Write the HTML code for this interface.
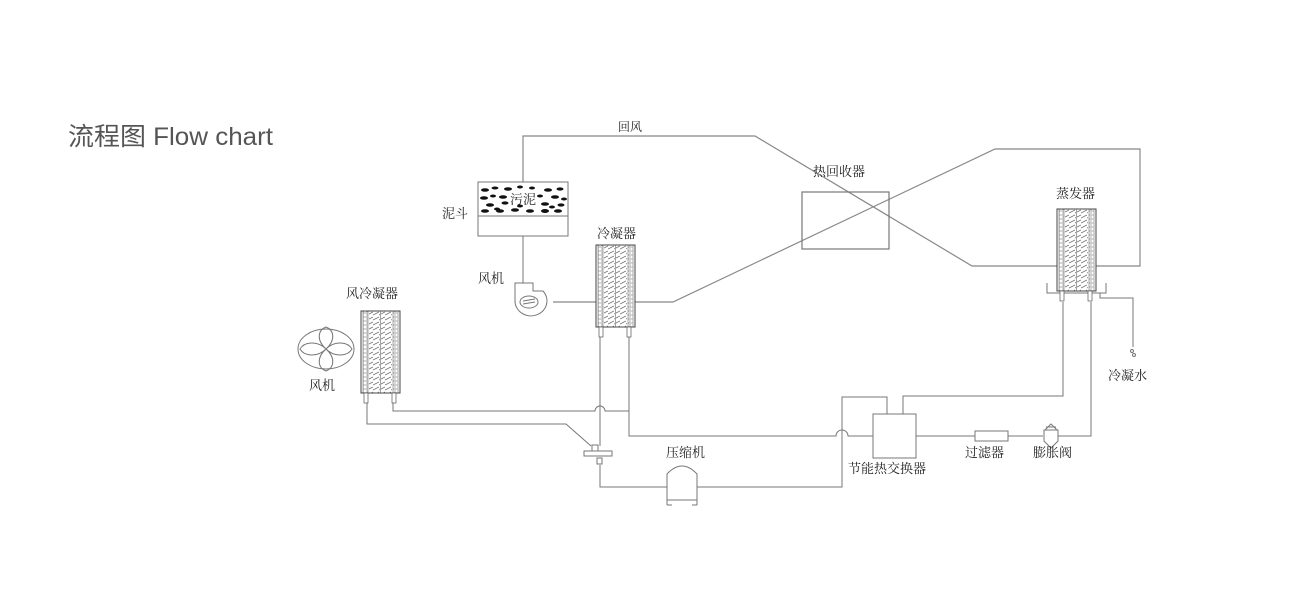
<!DOCTYPE html>
<html><head><meta charset="utf-8"><style>
body{margin:0;background:#fff;}
svg{display:block}
text{font-family:"Liberation Serif","Noto Serif CJK SC",serif;fill:#222;font-size:13px}
</style></head><body>
<svg width="1293" height="596" viewBox="0 0 1293 596" xmlns="http://www.w3.org/2000/svg">
<defs>
<pattern id="hatch" width="6" height="5" patternUnits="userSpaceOnUse">
<path d="M0,4 L6,1" stroke="#666" stroke-width="0.7"/>
</pattern>
<pattern id="dots" width="4" height="4" patternUnits="userSpaceOnUse">
<circle cx="2" cy="2" r="1.2" fill="none" stroke="#666" stroke-width="0.5"/>
</pattern>
<g id="coil">
<rect x="0" y="0" width="39" height="82" fill="#fff" stroke="#444" stroke-width="1"/>
<rect x="2" y="0" width="5" height="82" fill="url(#dots)" stroke="#555" stroke-width="0.5"/>
<rect x="32" y="0" width="5" height="82" fill="url(#dots)" stroke="#555" stroke-width="0.5"/>
<rect x="8" y="0" width="11" height="82" fill="url(#hatch)"/>
<rect x="20" y="0" width="11" height="82" fill="url(#hatch)"/>
<line x1="19.5" y1="0" x2="19.5" y2="82" stroke="#666" stroke-width="0.6"/>
<rect x="3" y="82" width="4" height="10" fill="#fff" stroke="#555" stroke-width="0.7"/>
<rect x="31" y="82" width="4" height="10" fill="#fff" stroke="#555" stroke-width="0.7"/>
</g>
</defs>
<text x="68" y="145" style="font-family:'Liberation Sans','Noto Sans CJK SC',sans-serif;font-size:25px;fill:#555" textLength="205" lengthAdjust="spacingAndGlyphs">流程图 Flow chart</text>

<g fill="none" stroke="#888" stroke-width="1.2">
<polyline points="523,182 523,136 755,136 972,266 1140,266 1140,149 995,149 673,302 553,302"/>
<rect x="802" y="192" width="87" height="57" stroke="#777"/>
</g>
<g fill="none" stroke="#777" stroke-width="1">
<rect x="478" y="182" width="90" height="54" fill="#fff"/>
<line x1="478" y1="216" x2="568" y2="216"/>
<line x1="523" y1="236" x2="523" y2="283"/>
<path d="M515,283 L533,283 L533,291 L543,291 A16,15 0 1 1 515,300 Z" fill="#fff"/>
<ellipse cx="529" cy="302" rx="9" ry="6"/>
<path d="M523,301 L535,299 M523,304 L535,302"/>
<ellipse cx="326" cy="349" rx="28" ry="20"/>
<path d="M326,349 C316,340 318,330 326,327 C334,330 336,340 326,349 C316,358 318,368 326,371 C334,368 336,358 326,349 C317,340 304,342 300,349 C304,356 317,358 326,349 C335,340 348,342 352,349 C348,356 335,358 326,349"/>
<path d="M393,403 L393,411 L595,411 A5,5 0 0 1 605,411 L629,411"/>
<path d="M367,403 L367,424 L566,424 L591,446"/>
<path d="M600,337 L600,446"/>
<path d="M629,337 L629,436 L836,436 A6,6 0 0 1 848,436 L873,436"/>
<path d="M600,465 L600,487 L842,487 L842,397 L887,397 L887,414"/>
<path d="M903,414 L903,396 L1063,396 L1063,302"/>
<path d="M916,436 L975,436 M1008,436 L1043,436 M1058,436 L1091,436 L1091,302"/>
<path d="M1100,293 L1100,298 L1133,298 L1133,347"/>
<rect x="584" y="451" width="28" height="5" fill="#fff"/>
<rect x="592" y="445" width="6" height="6" fill="#fff"/>
<rect x="597" y="458" width="5" height="6" fill="#fff"/>
<path d="M667,500 L667,474 Q682,458 697,474 L697,500 Z" fill="#fff"/>
<path d="M667,500 L667,505 M697,500 L697,505 M667,505 L672,505 M697,505 L692,505"/>
<rect x="873" y="414" width="43" height="44" fill="#fff"/>
<rect x="975" y="431" width="33" height="10" fill="#fff"/>
<path d="M1044,430 L1058,430 L1058,441 L1051,448 L1044,441 Z" fill="#fff"/>
<path d="M1045,430 L1051,424 L1057,430 M1046,427 L1056,427"/>
<path d="M1047,283 L1047,293 L1106,293 L1106,283"/>
<circle cx="1132" cy="351" r="1.5"/><circle cx="1134" cy="355" r="1.5"/>
</g>
<g fill="#111">
<ellipse cx="485" cy="190" rx="4" ry="1.8"/><ellipse cx="495" cy="188" rx="3.5" ry="1.5"/><ellipse cx="508" cy="189" rx="4" ry="1.7"/>
<ellipse cx="520" cy="187" rx="3" ry="1.5"/><ellipse cx="532" cy="188" rx="3" ry="1.5"/><ellipse cx="548" cy="190" rx="4" ry="1.8"/><ellipse cx="560" cy="189" rx="3.5" ry="1.6"/>
<ellipse cx="484" cy="198" rx="4" ry="1.8"/><ellipse cx="493" cy="196" rx="3" ry="1.5"/><ellipse cx="503" cy="197" rx="4" ry="1.7"/><ellipse cx="555" cy="197" rx="4" ry="1.8"/><ellipse cx="564" cy="199" rx="3" ry="1.5"/>
<ellipse cx="490" cy="205" rx="4" ry="1.8"/><ellipse cx="505" cy="203" rx="3.5" ry="1.6"/><ellipse cx="545" cy="204" rx="4" ry="1.8"/><ellipse cx="561" cy="205" rx="3.5" ry="1.6"/><ellipse cx="497" cy="209" rx="3" ry="1.5"/>
<ellipse cx="485" cy="211" rx="4" ry="1.8"/><ellipse cx="500" cy="211" rx="4" ry="1.7"/><ellipse cx="515" cy="210" rx="4" ry="1.8"/><ellipse cx="530" cy="211" rx="4" ry="1.8"/><ellipse cx="545" cy="211" rx="4" ry="2"/><ellipse cx="558" cy="211" rx="4" ry="1.8"/>
<ellipse cx="540" cy="196" rx="3" ry="1.5"/><ellipse cx="520" cy="206" rx="3" ry="1.5"/><ellipse cx="552" cy="207" rx="3" ry="1.5"/>
</g>
<use href="#coil" x="596" y="245"/>
<use href="#coil" x="361" y="311"/>
<use href="#coil" x="1057" y="209"/>
<g>
<text x="618" y="131" style="font-size:12px">回风</text>
<text x="510" y="204" style="font-size:13px">污泥</text>
<text x="442" y="218">泥斗</text>
<text x="597" y="238">冷凝器</text>
<text x="478" y="283">风机</text>
<text x="346" y="298">风冷凝器</text>
<text x="309" y="390">风机</text>
<text x="813" y="176">热回收器</text>
<text x="1056" y="198">蒸发器</text>
<text x="1108" y="380">冷凝水</text>
<text x="666" y="457">压缩机</text>
<text x="965" y="457">过滤器</text>
<text x="1033" y="457">膨胀阀</text>
<text x="848" y="473">节能热交换器</text>
</g>
</svg>
</body></html>
